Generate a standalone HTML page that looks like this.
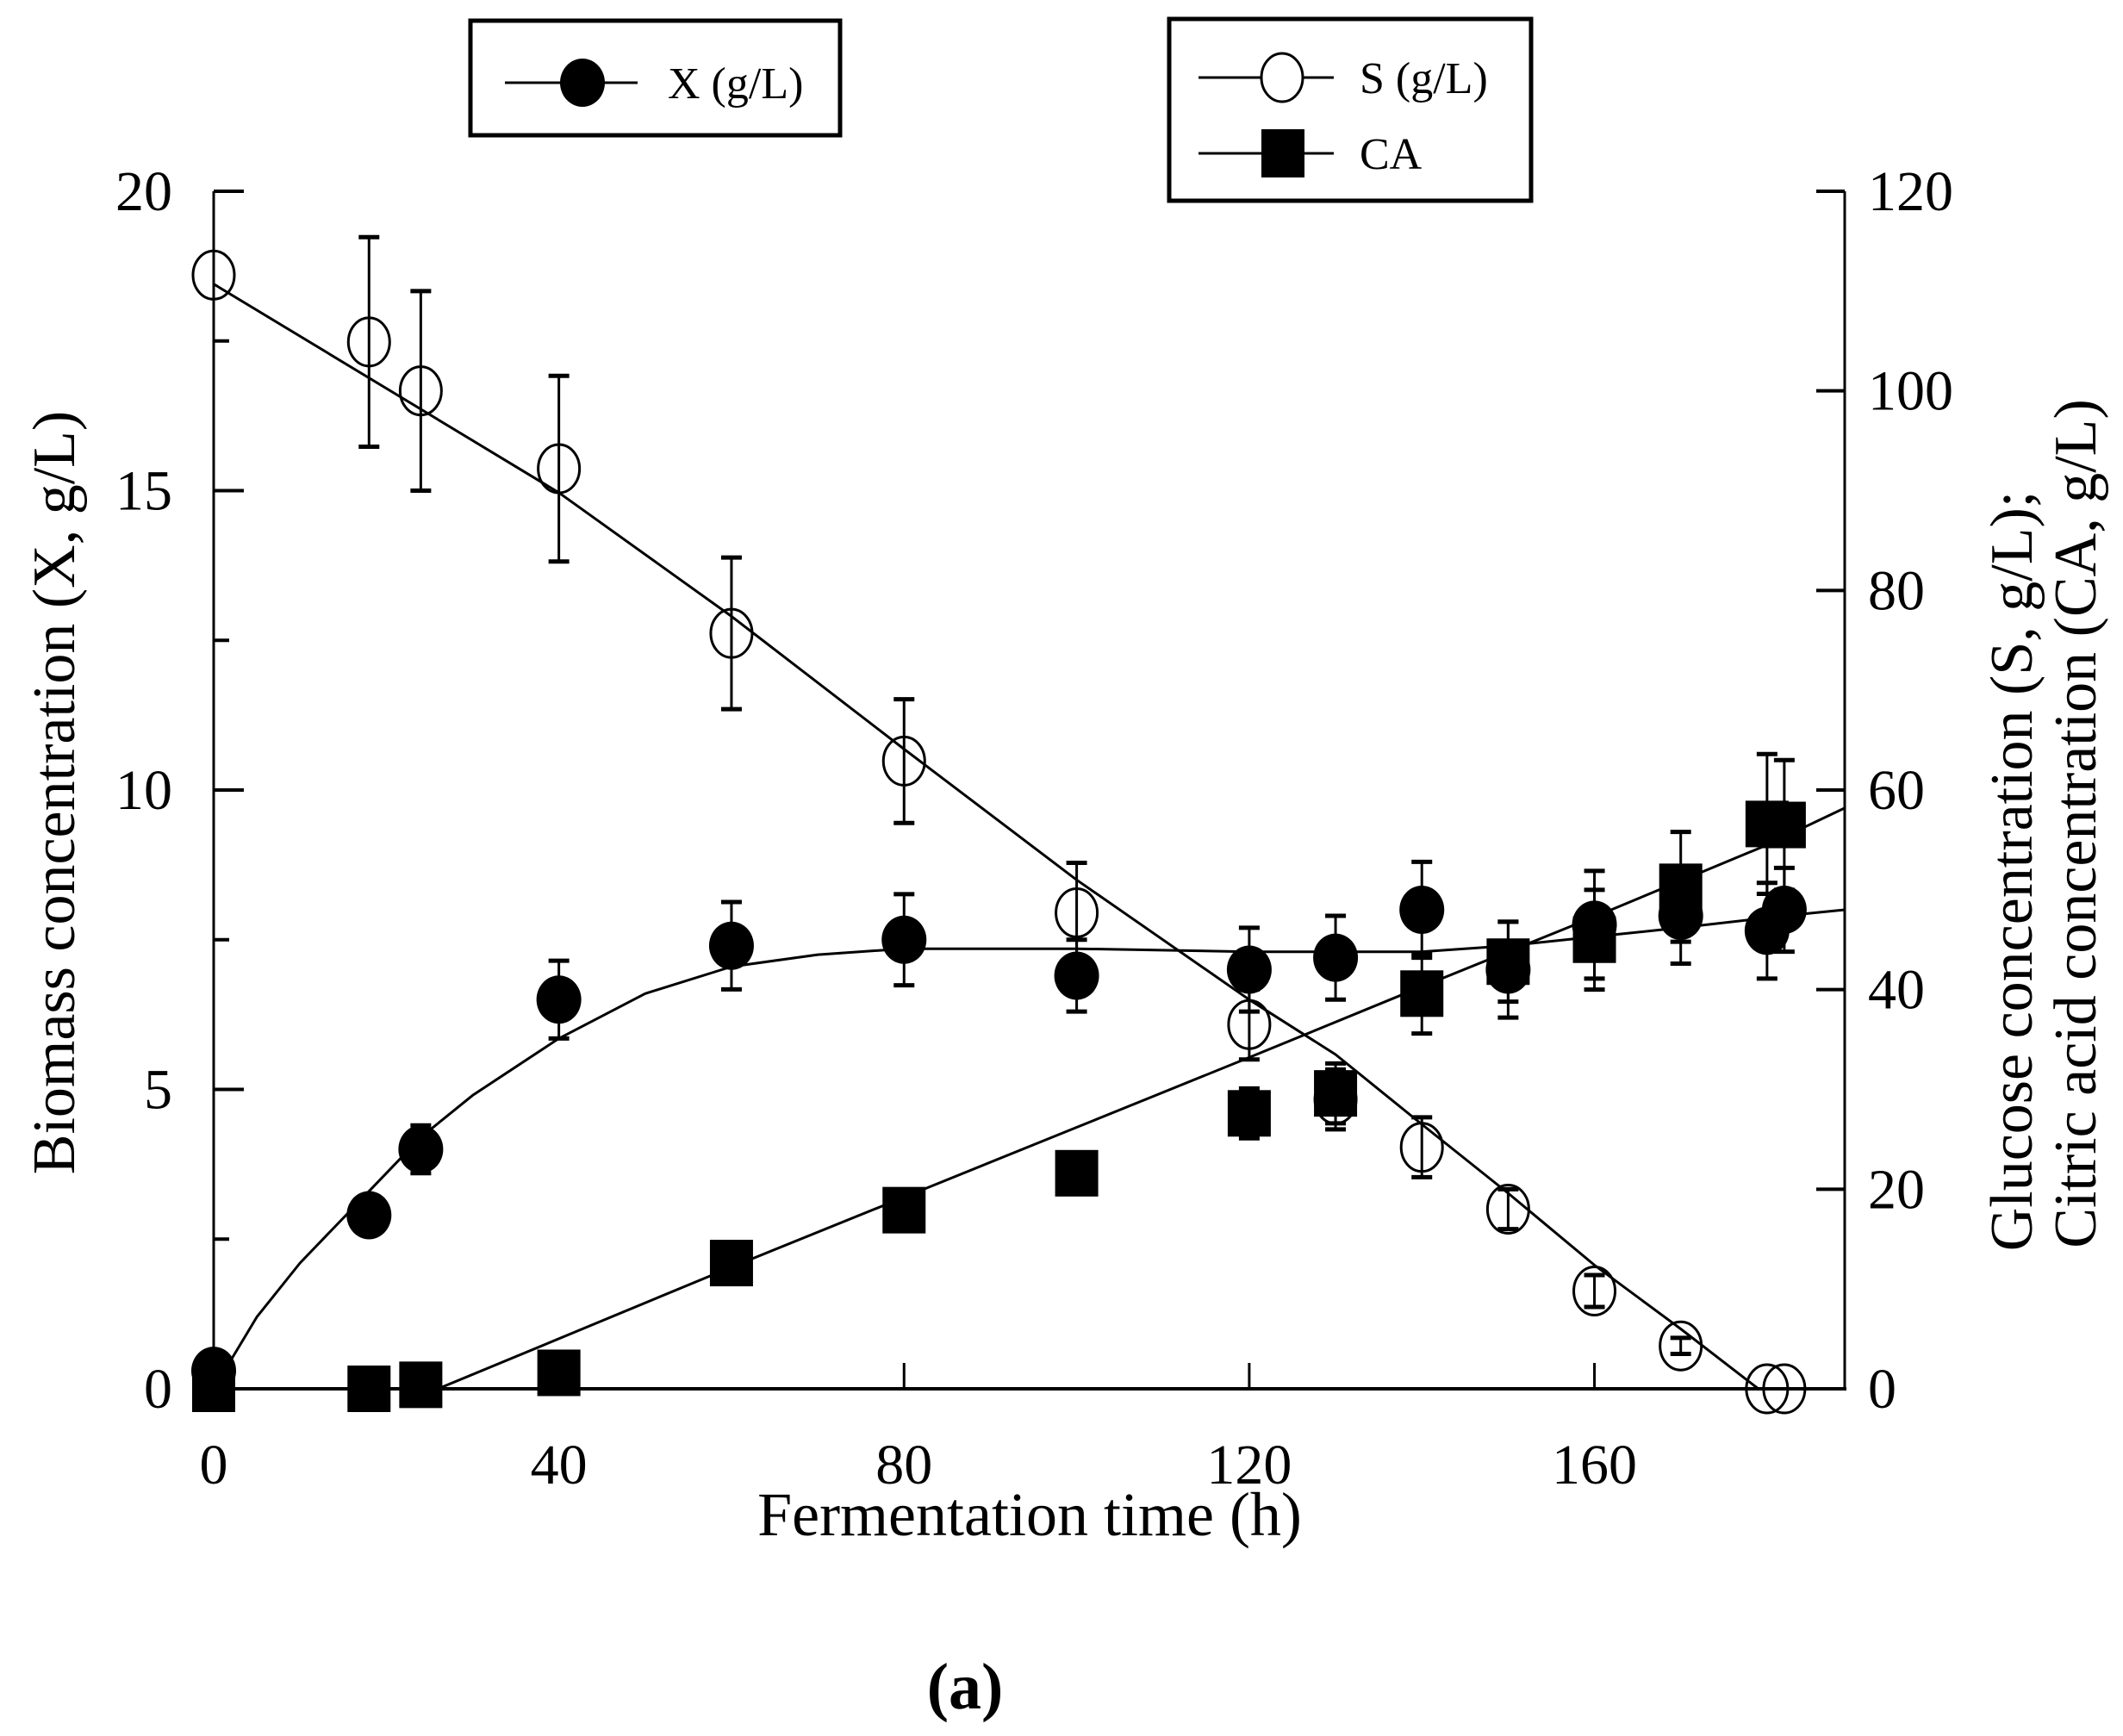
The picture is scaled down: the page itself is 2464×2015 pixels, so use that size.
<!DOCTYPE html>
<html><head><meta charset="utf-8"><style>
html,body{margin:0;padding:0;background:#fff;}
svg{display:block;font-family:"Liberation Serif",serif;}
</style></head><body>
<svg id="chart" width="2464" height="2015" viewBox="0 0 2464 2015" xmlns="http://www.w3.org/2000/svg">
<rect width="2464" height="2015" fill="#fff"/>
<g id="axes"></g>
<g id="fits"></g>
<g id="marks"></g>
<text x="1195" y="1782" font-size="72" text-anchor="middle">Fermentation time (h)</text>
<text transform="translate(86,920) rotate(-90)" font-size="70" text-anchor="middle">Biomass concentration (X, g/L)</text>
<text transform="translate(2358,1011) rotate(-90)" font-size="70" text-anchor="middle">Glucose concentration (S, g/L);</text>
<text transform="translate(2432,956) rotate(-90)" font-size="70" text-anchor="middle">Citric acid concentration (CA, g/L)</text>
<text x="1120" y="1983" font-size="76" font-weight="bold" text-anchor="middle">(a)</text>
<g>
<rect x="546" y="24" width="429" height="133" fill="#fff" stroke="#000" stroke-width="5"/>
<line x1="586" y1="96" x2="740" y2="96" stroke="#000" stroke-width="3"/>
<ellipse cx="676" cy="96" rx="26" ry="28" fill="#000"/>
<text x="775" y="114" font-size="52">X (g/L)</text>
</g>
<g>
<rect x="1357" y="22" width="420" height="211" fill="#fff" stroke="#000" stroke-width="5"/>
<line x1="1391" y1="90" x2="1548" y2="90" stroke="#000" stroke-width="3"/>
<ellipse cx="1488" cy="90" rx="24" ry="28" fill="#fff" stroke="#000" stroke-width="3"/>
<text x="1578" y="108" font-size="52">S (g/L)</text>
<line x1="1391" y1="178" x2="1548" y2="178" stroke="#000" stroke-width="3"/>
<rect x="1464" y="150" width="50" height="56" fill="#000"/>
<text x="1578" y="196" font-size="52">CA</text>
</g>
</svg>
<script>
const times = [0,18,24,40,60,80,100,120,130,140,150,160,170,180,182];
const xVals = [0.3,2.9,4.0,6.5,7.4,7.5,6.9,7.0,7.2,8.0,7.0,7.75,7.9,7.65,8.0];
const xErr  = [0,0,0.4,0.65,0.73,0.76,0.6,0.7,0.7,0.8,0.8,0.9,0.8,0.8,0.7];
const sVals = [111.6,104.9,100,92.2,75.7,62.9,47.7,36.5,29,24.2,18,9.8,4.3,0,0];
const sErr  = [0,10.5,10,9.3,7.6,6.2,5,3.5,3,3,2,1.6,0.8,0,0];
const caVals= [0,0,0.4,1.6,12.6,17.9,21.6,27.6,29.6,39.6,42.8,45,50.3,56.6,56.5];
const caErr = [0,0,0,0,0,0,0,2.5,3,4,4,5,5.5,7,6.5];
const fitXT = [0,5,10,18,24,30,40,50,60,70,80,100,120,140,150,160,170,182,189];
const fitXV = [0,1.2,2.1,3.3,4.2,4.9,5.85,6.6,7.05,7.25,7.35,7.35,7.3,7.3,7.4,7.55,7.7,7.9,8.0];
const fitST = [0,40,60,80,100,120,130,140,150,160,170,179];
const fitSV = [110.7,89.8,77.4,64.1,51,39,33.5,26.5,19.6,12.4,6,0];
const fitCAT = [0,26,60,80,100,120,140,160,180,189];
const fitCAV = [0,0,12.2,19.2,26.2,33.2,40.3,47.3,54.5,58.2];
const xTicks = [0,40,80,120,160];
const leftTicks = [0,5,10,15,20];
const rightTicks = [0,20,40,60,80,100,120];

const L=248,R=2141,T=222,B=1612;
const sx=t=>L+t*(R-L)/189;
const syL=v=>B-v*(B-T)/20;
const syR=v=>B-v*(B-T)/120;
const NS="http://www.w3.org/2000/svg";
function mk(tag,attrs,parent){const e=document.createElementNS(NS,tag);for(const k in attrs)e.setAttribute(k,attrs[k]);parent.appendChild(e);return e;}
const axes=document.getElementById('axes'),fits=document.getElementById('fits'),marks=document.getElementById('marks');

let a=mk('line',{x1:L-2,y1:B,x2:R+2,y2:B,stroke:'#000','stroke-width':4},axes);


a=mk('line',{x1:L,y1:T,x2:L,y2:B,stroke:'#000','stroke-width':3},axes);


a=mk('line',{x1:R,y1:T,x2:R,y2:B,stroke:'#000','stroke-width':3},axes);



xTicks.forEach(t=>{
  const l=mk('line',{x1:sx(t),y1:B,x2:sx(t),y2:B-30,stroke:'#000','stroke-width':3},axes);
  
  
  const tx=mk('text',{x:sx(t),y:B+110,'font-size':66,'text-anchor':'middle'},axes);
  tx.textContent=t;
  
  
});
leftTicks.forEach(v=>{
  const l=mk('line',{x1:L,y1:syL(v),x2:L+35,y2:syL(v),stroke:'#000','stroke-width':4},axes);
  
  
  const tx=mk('text',{x:200,y:syL(v)+22,'font-size':66,'text-anchor':'end'},axes);
  tx.textContent=v;
  
  
});
[2.5,7.5,12.5,17.5].forEach(v=>{
  const l=mk('line',{x1:L,y1:syL(v),x2:L+18,y2:syL(v),stroke:'#000','stroke-width':4},axes);
  
  
});
rightTicks.forEach(v=>{
  const l=mk('line',{x1:R,y1:syR(v),x2:R-33,y2:syR(v),stroke:'#000','stroke-width':4},axes);
  
  
  const tx=mk('text',{x:2168,y:syR(v)+22,'font-size':66,'text-anchor':'start'},axes);
  tx.textContent=v;
  
  
});

function fitPath(ts,vs,sy,name){
  const d=ts.map((t,i)=>(i?'L':'M')+sx(t).toFixed(1)+' '+sy(vs[i]).toFixed(1)).join(' ');
  const p=mk('path',{d:d,fill:'none',stroke:'#000','stroke-width':3,'stroke-linejoin':'round'},fits);
  
  
}
fitPath(fitXT,fitXV,syL,'fit-line-x');
fitPath(fitST,fitSV,syR,'fit-line-s');
fitPath(fitCAT,fitCAV,syR,'fit-line-ca');

function errBar(x,v,e,sy,name){
  if(!e)return;
  const g=mk('g',{stroke:'#000','stroke-width':3},marks);
  
  
  const y1=sy(v+e),y2=sy(v-e);
  mk('line',{x1:x,y1:y1,x2:x,y2:y2},g);
  mk('line',{x1:x-12,y1:y1,x2:x+12,y2:y1,'stroke-width':5},g);
  mk('line',{x1:x-12,y1:y2,x2:x+12,y2:y2,'stroke-width':5},g);
}
times.forEach((t,i)=>{
  errBar(sx(t),sVals[i],sErr[i],syR,'error-bar-s');
  const c=mk('ellipse',{cx:sx(t),cy:syR(sVals[i]),rx:24,ry:28,fill:'none',stroke:'#000','stroke-width':3},marks);
  
  
});
times.forEach((t,i)=>{
  errBar(sx(t),xVals[i],xErr[i],syL,'error-bar-x');
  const c=mk('ellipse',{cx:sx(t),cy:syL(xVals[i]),rx:26,ry:28,fill:'#000'},marks);
  
  
});
times.forEach((t,i)=>{
  errBar(sx(t),caVals[i],caErr[i],syR,'error-bar-ca');
  const r=mk('rect',{x:sx(t)-25,y:syR(caVals[i])-27,width:50,height:54,fill:'#000'},marks);
  
  
});
</script>
</body></html>
